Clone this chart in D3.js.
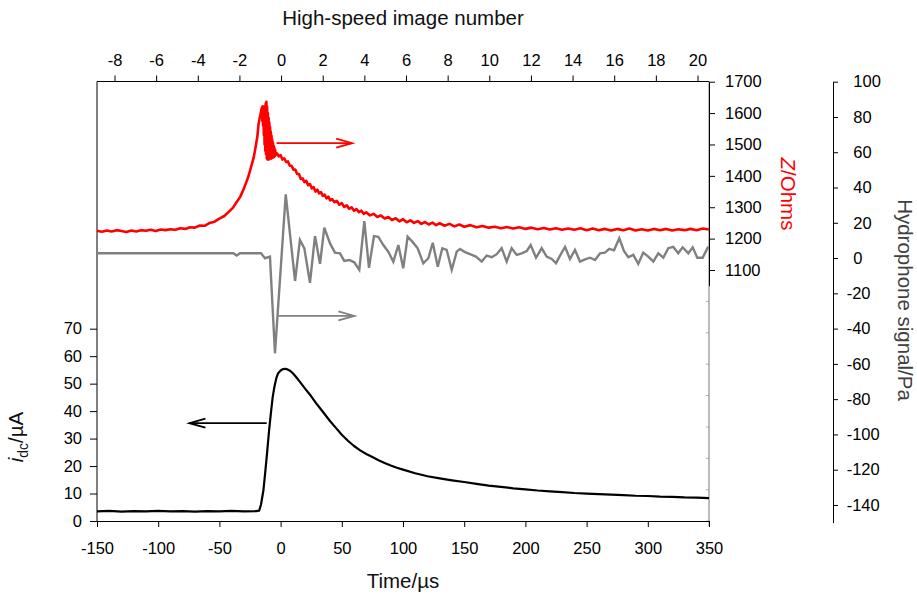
<!DOCTYPE html>
<html><head><meta charset="utf-8">
<script src="https://cdn.jsdelivr.net/npm/d3@7"></script>
<style>
body{margin:0;background:#fff;}
text{font-family:"Liberation Sans",Arial,sans-serif;}
</style></head><body>
<svg id="c" width="917" height="596"></svg>
<script>
// ---------- tick labels ----------
const timeTicks = [-150,-100,-50,0,50,100,150,200,250,300,350];
const imageTicks = [-8,-6,-4,-2,0,2,4,6,8,10,12,14,16,18,20];
const zTicks = [1100,1200,1300,1400,1500,1600,1700];
const zFrameTicks = [1000,900,800,700,600,500,400,300];
const hydroTicks = [-140,-120,-100,-80,-60,-40,-20,0,20,40,60,80,100];
const idcTicks = [0,10,20,30,40,50,60,70];

// ---------- impedance Z (Ohms) ----------
const zTime = [-150,-146,-142,-138,-134,-130,-126,-122,-118,-114,-110,-106,-102,-98,-94,-90,-86,-82,-78,-74,-70,-66,-62,-58,-54,-50,-46,-42,-39,-36,-33,-30,-28,-26,-24,-22,-20.5,-19,-18,-17,-16.2,-15.6,
 -15.2,-14.9,-14.6,-14.3,-14.0,-13.7,-13.4,-13.1,-12.8,-12.5,-12.2,-11.9,-11.6,-11.3,-11.0,-10.7,-10.4,-10.1,-9.8,-9.5,-9.2,-8.9,-8.6,-8.3,-8.0,-7.7,-7.4,-7.1,-6.8,-6.5,-6.2,-5.9,-5.6,-5.3,-5.0,-4.7,-4.4,-4.1,
 -3,-1.5,0,1.5,3,4.5,6,7.5,9,10.5,12,13.5,15,16.5,18,19.5,21,22.5,24,25.5,27,28.5,30,31.5,33,34.5,36,37.5,39,40.5,42,44,46,48,50,52,54,56,58,60,62,64,66,68,70,73,76,79,82,85,88,91,94,97,100,103,106,109,112,115,118,121,124,127,130,134,138,142,146,150,155,
 160,165,170,175,180,185,190,195,200,205,210,215,220,225,230,235,240,245,250,255,260,265,270,275,280,285,290,295,300,305,310,315,320,325,330,335,340,345,350];
const zOhms = [1225,1222,1226,1223,1227,1224,1221,1226,1223,1227,1225,1228,1224,1229,1227,1230,1228,1233,1231,1236,1235,1242,1241,1250,1254,1264,1272,1287,1298,1316,1333,1360,1380,1402,1430,1458,1490,1525,1565,1585,1600,1612,
 1618,1575,1622,1560,1610,1530,1620,1500,1605,1480,1630,1470,1636,1455,1620,1452,1600,1455,1585,1452,1570,1455,1555,1458,1540,1455,1528,1460,1515,1458,1505,1462,1495,1460,1488,1463,1482,1466,
 1472,1462,1466,1452,1456,1444,1446,1432,1432,1420,1420,1406,1406,1390,1392,1380,1384,1370,1374,1360,1364,1350,1356,1344,1348,1336,1340,1328,1334,1322,1326,1316,1320,1308,1313,1301,1306,1295,1300,1289,1294,1284,1289,1279,1284,1274,1279,1269,1274,1264,1269,1259,1265,1255,1262,1252,1258,1250,1256,1247,1253,1245,1251,1243,1249,1241,1247,1239,1245,1238,1243,
 1236,1240,1235,1238,1233,1237,1232,1236,1231,1235,1230,1234,1229,1233,1228,1232,1228,1233,1227,1232,1227,1231,1226,1231,1227,1232,1226,1230,1226,1231,1227,1231,1226,1230,1227,1231,1227,1232,1229];

// ---------- hydrophone signal (Pa) ----------
const hydroTime = [-150,-45.4,-38.6,-35.9,-33.2,-16.0,-12.7,-8.7,-4.6,4.2,11.8,15.8,19.4,24.0,28.1,32.2,35.7,40.4,44.4,48.5,52.0,56.1,60.2,64.3,68.4,72.2,76.3,79.8,83.9,88.0,92.1,96.2,100.2,103.8,107.6,112.0,116.6,120.7,124.3,128.4,132.1,135.7,139.8,143.9,
 146.6,150.7,154.7,159.6,164.3,168.4,172.5,176.6,180.6,184.7,188.8,192.9,197.0,201.1,204.3,208.7,213.3,217.4,221.5,225.0,228.3,232.4,236.4,240.5,244.6,248.7,252.8,256.9,261.0,265.0,268.5,272.4,276.7,280.5,284.1,288.2,292.2,296.3,300.4,304.5,308.6,312.7,316.7,320.8,324.9,328.5,333.1,336.7,340.4,344.8,349.4];
const hydroPa = [2.7,2.7,2.7,1.4,2.7,2.7,-0.1,0.8,-54,36.1,-13,10.3,5.5,-14,12.5,-3.3,17.2,8.3,3.1,2.7,-1.6,-1.1,-2.4,-6.7,21,-5.5,12.5,12.1,7.4,3.6,-2.1,7.4,-5.8,12.1,9.3,5.5,-3.0,-0.1,8.7,-4.9,5.5,4.6,-6.7,3.6,
 5.2,3.3,2.2,0.8,-2.0,1.4,0.5,2.2,5.6,-2.0,5.6,1.8,2.7,4.0,7.4,0.2,5.6,0.8,-0.5,-2.9,1.4,6.3,-0.5,4.6,-2.0,-0.7,0.2,-1.1,2.7,3.1,5.2,4.4,11.2,4.0,0.5,1.8,-3.3,3.1,0.8,-2.0,2.7,0.2,5.6,6.3,2.7,6.1,2.7,6.1,0.2,0.2,6.5];

// ---------- dc current (µA) ----------
const idcTime = [-150,-140,-130,-120,-110,-100,-90,-80,-70,-60,-50,-40,-30,-20,-17.5,-16,-14,-12.5,-11,-9.5,-8,-6.5,-5,-3.5,-2,0,2,4,6,8,10,12.5,15,20,25,30,35,40,45,50,55,60,65,70,75,80,85,90,95,100,110,120,130,140,150,160,170,180,190,200,210,220,230,240,250,260,270,280,290,300,310,320,330,340,350];
const idcUA = [3.5,3.7,3.4,3.6,3.5,3.7,3.5,3.6,3.4,3.6,3.5,3.7,3.5,3.6,3.8,6,11.3,18,25,32.5,39,45,49,52,53.8,54.8,55.3,55.4,55.1,54.6,53.8,52.5,51.1,48.2,45.4,42.3,39.5,36.6,34,31.4,29.2,27.3,25.7,24.4,23.3,22.1,21.1,20.2,19.4,18.7,17.4,16.3,15.5,14.8,14.2,13.5,12.9,12.4,11.9,11.5,11.1,10.8,10.5,10.2,10.0,9.8,9.6,9.4,9.2,9.1,8.9,8.8,8.6,8.5,8.3];

// ---------- arrows (data units) ----------
const zArrow = {t0:-3.3, t1:58.5, v:1504};
const hydroArrow = {t0:-1.9, t1:60.3, v:-32.8};
const idcArrow = {t0:-11.4, t1:-74.5, v:35.6};

// ---------- scales ----------
const x = d3.scaleLinear().domain([-150,350]).range([97,709]);
const xImg = d3.scaleLinear().domain([-8,20]).range([114.5,697.5]);
const yZ = d3.scaleLinear().domain([1050,1700]).range([285.7,81.7]);
const yH = d3.scaleLinear().domain([-150,100]).range([522.6,81.7]);
const yI = d3.scaleLinear().domain([0,70]).range([521,328.7]);

const svg = d3.select("#c");
const FONT = '"Liberation Sans",Arial,sans-serif';
const TICKFS = 16.5, TITLEFS = 20.5;
const fmt = d => String(d);

function styleAxis(g){
  g.attr("font-family", FONT).attr("font-size", TICKFS);
  g.selectAll("line").attr("stroke","#000");
  g.selectAll("path").attr("stroke","#000");
  g.selectAll("text").attr("fill","#000");
}

// frame
svg.append("line").attr("x1",97).attr("x2",97).attr("y1",81.5).attr("y2",521).attr("stroke","#000");
svg.append("line").attr("x1",97).attr("x2",709).attr("y1",81.5).attr("y2",81.5).attr("stroke","#000");
svg.append("line").attr("x1",709).attr("x2",709).attr("y1",81.5).attr("y2",526).attr("stroke","#555").attr("stroke-width",0.8);
svg.append("g").selectAll("line").data(zFrameTicks).join("line")
  .attr("x1",706).attr("x2",709).attr("y1",d=>yZ(d)).attr("y2",d=>yZ(d)).attr("stroke","#999").attr("stroke-width",0.8);

// bottom axis
svg.append("g").attr("transform","translate(0,521)")
  .call(d3.axisBottom(x).tickValues(timeTicks).tickFormat(fmt).tickSize(6).tickPadding(15).tickSizeOuter(0))
  .call(styleAxis);
// top axis
svg.append("g").attr("transform","translate(0,81.5)")
  .call(d3.axisTop(xImg).tickValues(imageTicks).tickFormat(fmt).tickSize(6).tickPadding(10).tickSizeOuter(0))
  .call(styleAxis).call(g=>g.select(".domain").remove());
// left axis
svg.append("g").attr("transform","translate(97,0)")
  .call(d3.axisLeft(yI).tickValues(idcTicks).tickFormat(fmt).tickSize(7).tickPadding(8).tickSizeOuter(0))
  .call(styleAxis).call(g=>g.select(".domain").remove());
// Z axis
svg.append("g").attr("transform","translate(709,0)")
  .call(d3.axisRight(yZ).tickValues(zTicks).tickFormat(fmt).tickSize(6).tickPadding(10).tickSizeOuter(0))
  .call(styleAxis);
// hydrophone axis
svg.append("g").attr("transform","translate(833,0)")
  .call(d3.axisRight(yH).tickValues(hydroTicks).tickFormat(fmt).tickSize(5).tickSizeOuter(0))
  .call(styleAxis)
  .call(g=>g.selectAll(".tick text").attr("x",d=>d<0?13.7:20.3).attr("text-anchor","start"));

// lines
const line = (xs, ys, yScale) => d3.line().x(i=>x(xs[i])).y(i=>yScale(ys[i]))(d3.range(xs.length));
svg.append("path").attr("d",line(zTime,zOhms,yZ)).attr("fill","none").attr("stroke","#ff0000").attr("stroke-width",2.6).attr("stroke-linejoin","round");
svg.append("path").attr("d",line(hydroTime,hydroPa,yH)).attr("fill","none").attr("stroke","#808080").attr("stroke-width",2.4).attr("stroke-linejoin","miter");
svg.append("path").attr("d",line(idcTime,idcUA,yI)).attr("fill","none").attr("stroke","#000").attr("stroke-width",2.2).attr("stroke-linejoin","round");

// arrows
function arrow(a, yScale, color){
  const x0=x(a.t0), x1=x(a.t1), y=yScale(a.v);
  const dir = Math.sign(x1-x0), L=16, hw=4.5;
  svg.append("line").attr("x1",x0).attr("x2",x1).attr("y1",y).attr("y2",y).attr("stroke",color).attr("stroke-width",1.8);
  svg.append("polyline").attr("points",`${x1-dir*L},${y-hw} ${x1},${y} ${x1-dir*L},${y+hw}`)
    .attr("fill","none").attr("stroke",color).attr("stroke-width",1.8);
}
arrow(zArrow, yZ, "#ff0000");
arrow(hydroArrow, yH, "#808080");
arrow(idcArrow, yI, "#000");

// titles
svg.append("text").attr("x",403).attr("y",25).attr("text-anchor","middle").attr("font-size",TITLEFS).attr("fill","#111").text("High-speed image number");
svg.append("text").attr("x",403).attr("y",588).attr("text-anchor","middle").attr("font-size",TITLEFS).attr("fill","#111").text("Time/µs");
const zl = svg.append("text").attr("transform","translate(781,194) rotate(90)").attr("text-anchor","middle").attr("font-size",TITLEFS).attr("fill","#ff0000");
zl.append("tspan").attr("font-style","italic").text("Z");
zl.append("tspan").text("/Ohms");
svg.append("text").attr("transform","translate(897.5,300) rotate(90)").attr("text-anchor","middle").attr("font-size",TITLEFS).attr("fill","#404040").text("Hydrophone signal/Pa");
const il = svg.append("text").attr("transform","translate(23,437) rotate(-90)").attr("text-anchor","middle").attr("font-size",TITLEFS).attr("fill","#111");
il.append("tspan").attr("font-style","italic").text("i");
il.append("tspan").attr("font-size",14).attr("dy",5).text("dc");
il.append("tspan").attr("dy",-5).text("/µA");
</script>
</body></html>
